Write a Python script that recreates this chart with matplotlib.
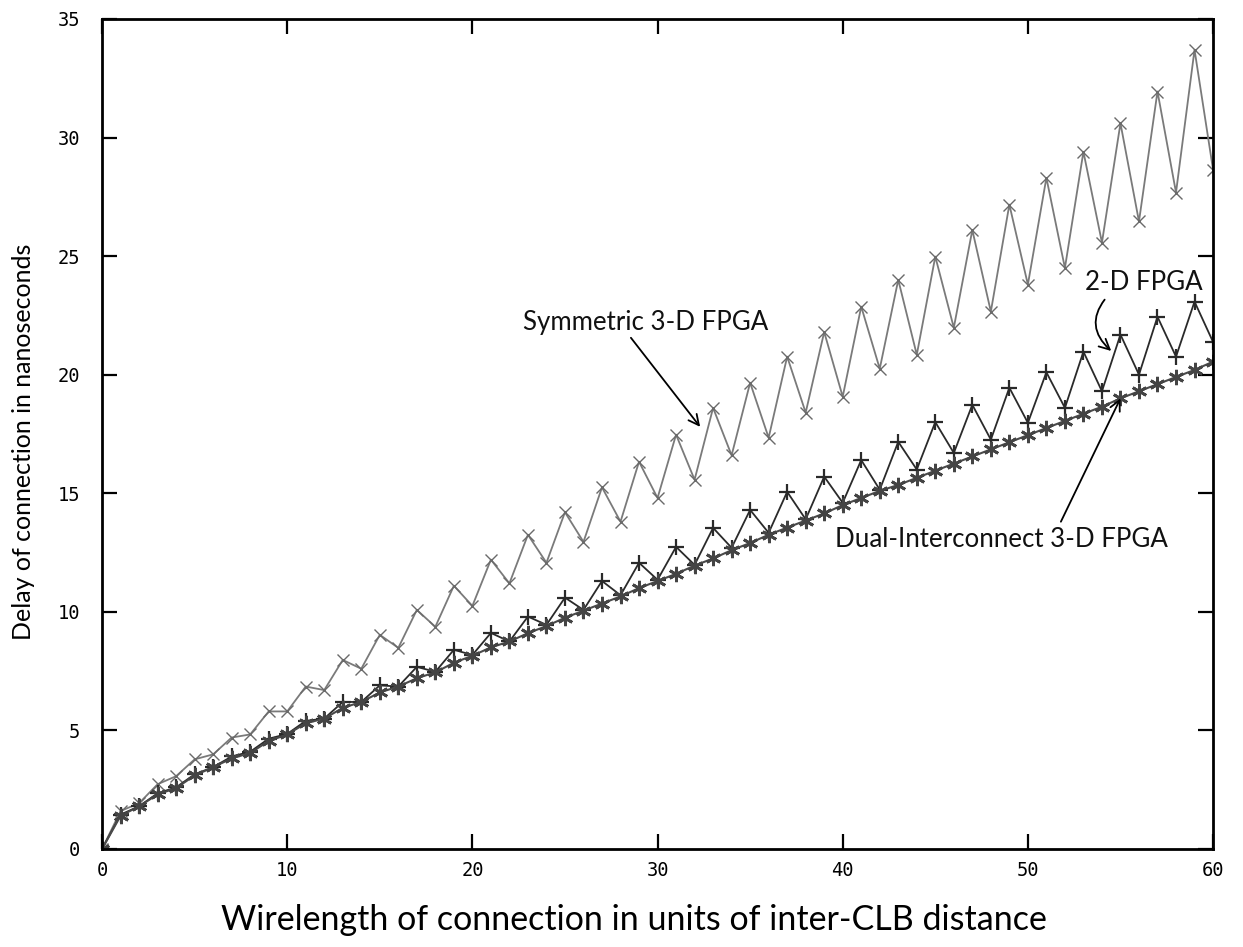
import matplotlib
matplotlib.use("Agg")
import matplotlib.pyplot as plt
import numpy as np

# wirelength (units of inter-CLB distance)
wirelength = list(range(61))

# delay in ns
symmetric_3d = [0.0, 1.6, 1.93, 2.73, 3.07, 3.78, 3.99, 4.7, 4.83, 5.8,
                5.8, 6.85, 6.7, 7.97, 7.6, 9.03, 8.48, 10.08, 9.37, 11.1,
                10.25, 12.2, 11.2, 13.25, 12.07, 14.2, 12.95, 15.25, 13.8, 16.33,
                14.8, 17.47, 15.57, 18.6, 16.6, 19.66, 17.34, 20.76, 18.4, 21.8,
                19.07, 22.87, 20.25, 24.0, 20.84, 24.98, 21.98, 26.1, 22.66, 27.17,
                23.8, 28.3, 24.5, 29.4, 25.57, 30.6, 26.46, 31.94, 27.68, 33.7,
                28.65]

fpga_2d = [0.0, 1.45, 1.8, 2.35, 2.6, 3.15, 3.45, 3.9, 4.1, 4.65,
           4.85, 5.4, 5.5, 6.2, 6.2, 6.9, 6.85, 7.68, 7.47, 8.4,
           8.18, 9.11, 8.75, 9.8, 9.45, 10.6, 10.08, 11.3, 10.7, 12.07,
           11.35, 12.74, 11.98, 13.54, 12.7, 14.3, 13.33, 15.06, 13.9, 15.7,
           14.6, 16.4, 15.15, 17.17, 16.0, 18.0, 16.7, 18.73, 17.26, 19.45,
           17.97, 20.1, 18.6, 20.97, 19.3, 21.69, 20.0, 22.44, 20.76, 23.08,
           21.38]

dual_3d = [0.0, 1.4, 1.8, 2.3, 2.57, 3.1, 3.45, 3.82, 4.05, 4.55,
           4.83, 5.3, 5.5, 5.95, 6.2, 6.6, 6.85, 7.2, 7.45, 7.85,
           8.15, 8.5, 8.75, 9.1, 9.4, 9.75, 10.05, 10.35, 10.65, 11.0,
           11.3, 11.6, 11.95, 12.25, 12.6, 12.9, 13.25, 13.55, 13.85, 14.15,
           14.5, 14.8, 15.1, 15.35, 15.65, 15.95, 16.25, 16.55, 16.85, 17.15,
           17.45, 17.75, 18.05, 18.35, 18.65, 19.0, 19.3, 19.6, 19.9, 20.2,
           20.55]

fig = plt.figure(figsize=(12.43, 9.47), dpi=100)
ax = fig.add_axes([0.0821, 0.1035, 0.8938, 0.8765])

ax.plot(wirelength, symmetric_3d, color="#7a7a7a", lw=1.3, marker="x",
        ms=8, mew=1.0, mec="#6a6a6a")
ax.plot(wirelength, fpga_2d, color="#2a2a2a", lw=1.3, marker="+",
        ms=11, mew=1.6)
ax.plot(wirelength, dual_3d, color="#4a4a4a", lw=1.5, marker=(6, 2, 0),
        ms=11, mew=2.0, mec="#444444")

ax.set_xlim(0, 60)
ax.set_ylim(0, 35)
ax.set_xticks(range(0, 61, 10))
ax.set_yticks(range(0, 36, 5))
ax.tick_params(direction="in", top=True, right=True, length=11, width=1.6,
               labelsize=13.5)
ax.tick_params(axis="y", pad=16)
ax.tick_params(axis="x", pad=9)
for lab in ax.get_xticklabels() + ax.get_yticklabels():
    lab.set_family("DejaVu Sans Mono")
for s in ax.spines.values():
    s.set_linewidth(2.0)

ax.set_xlabel("Wirelength of connection in units of inter-CLB distance",
              family="Lato", fontsize=24.5)
ax.set_ylabel("Delay of connection in nanoseconds", family="Lato",
              fontsize=18)
ax.xaxis.set_label_coords(0.479, -0.066)
ax.yaxis.set_label_coords(-0.060, 0.49)

ann = dict(family="Lato", fontsize=18.6, color="#111111")
ax.annotate("Symmetric 3-D FPGA", xy=(32.3, 17.8), xytext=(22.75, 22.2),
            va="center", ha="left",
            arrowprops=dict(arrowstyle="->", color="black", lw=1.3,
                            shrinkA=0, shrinkB=0,
                            relpos=(0.43, 0.0)), **ann)
ax.annotate("2-D FPGA", xy=(54.5, 21.0), xytext=(53.1, 23.9),
            va="center", ha="left",
            arrowprops=dict(arrowstyle="->", color="black", lw=1.3,
                            shrinkA=2, shrinkB=0,
                            connectionstyle="arc3,rad=0.5",
                            relpos=(0.2, 0.0)), **ann)
ax.annotate("Dual-Interconnect 3-D FPGA", xy=(55.0, 19.0), xytext=(39.6, 13.05),
            va="center", ha="left",
            arrowprops=dict(arrowstyle="->", color="black", lw=1.3,
                            shrinkA=2, shrinkB=0,
                            relpos=(0.67, 1.0)), **ann)

fig.savefig("out.png", dpi=100)
